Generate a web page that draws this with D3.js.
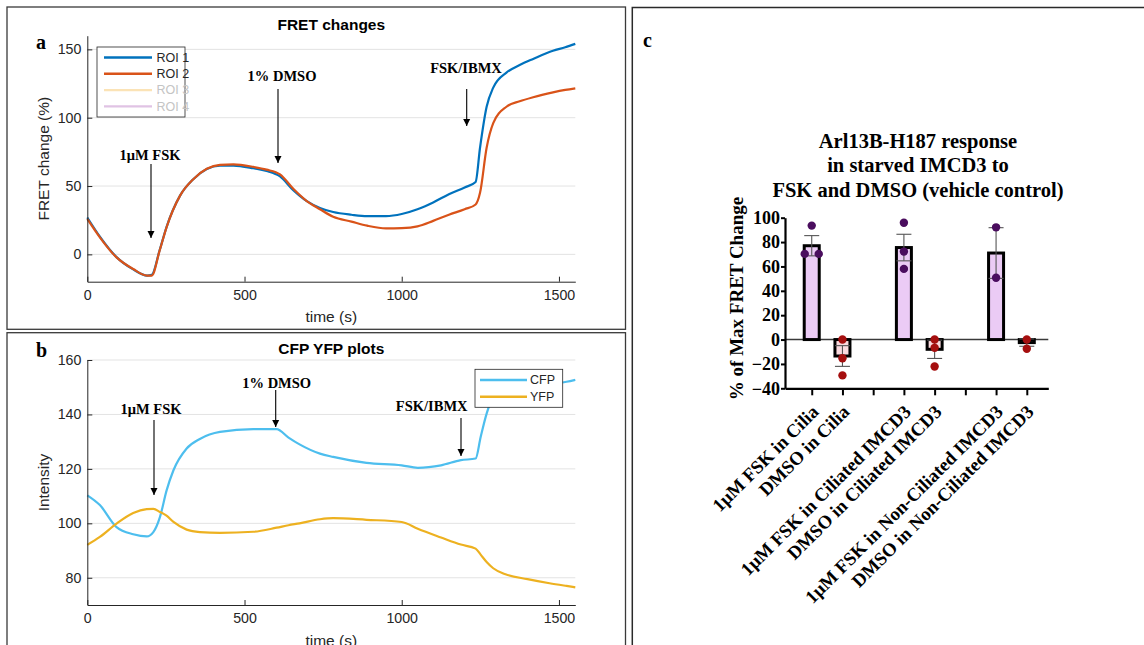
<!DOCTYPE html>
<html><head><meta charset="utf-8">
<script src="https://cdn.jsdelivr.net/npm/d3@7"></script>
<style>body{margin:0;background:#fff} svg{display:block}</style>
</head><body><svg id="c" width="1144" height="645"></svg>
<script>
// ---------- DATA ----------
const timesA = [0,40,93,146,190,205,230,252,295,337,380,422,465,528,570,613,655,698,740,782,840,890,950,1000,1050,1100,1150,1200,1235,1249,1270,1291,1333,1375,1418,1481,1520,1552];
const roi1 = [27,13,-2,-11,-15.5,-15,3,20,43,55,62.5,65,65,63,61,57,47,39,34,31,29,28,28,29.5,33,38,44,49,53,78,108,122,133,138.5,143,149,151.5,154];
const roi2 = [26,12.5,-2.2,-10.7,-15.5,-15.5,2.7,19.8,43,55,62.6,65.5,65.8,64,62,58.5,48,39,33,27.5,24,21,19,19.2,20.5,24.5,29,33,36.5,45,78,96,108,112,115,118.5,120.3,121.5];
const roiLabels = ["ROI 1","ROI 2","ROI 3","ROI 4"];

const timesB = [0,40,93,146,189,210,231,252,274,316,358,422,528,602,640,675,740,782,888,1000,1051,1125,1188,1235,1251,1270,1291,1330,1400,1470,1524,1552];
const cfp = [110.3,106.7,98.6,96,95.2,96.8,102.3,112,119.5,127.5,131,133.6,134.6,134.6,131.5,129,125.6,124.4,122.2,121.3,120.4,121.3,123.2,123.8,131.7,140.3,146.5,149.5,150.5,151.2,152,152.7];
const yfp = [92.1,95,99.9,103.8,105.2,105.3,104.2,102.8,100.5,97.7,96.8,96.5,96.9,98.4,99.3,100,101.5,101.9,101.3,100.5,98,94.8,92.2,90.7,88.5,85.8,83.5,81.3,79.5,78,77,76.5];
const cfpYfpLabels = ["CFP","YFP"];

const timeTicks = [0,500,1000,1500];
const fretTicks = [0,50,100,150];
const intensityTicks = [80,100,120,140,160];

const barCategories = ["1\u03BCM FSK in Cilia","DMSO in Cilia","1\u03BCM FSK in Ciliated IMCD3","DMSO in Ciliated IMCD3","1\u03BCM FSK in Non-Ciliated IMCD3","DMSO in Non-Ciliated IMCD3"];
const barSlots = [0,1,3,4,6,7];
const barMeans = [77,-13.5,75.5,-8,71,-2.5];
const barSem = [8.3,8.5,10.9,7.5,20.8,3];
const barPoints = [[93.5,70.3,70.3],[0,-15.3,-29.4],[95.9,72.2,58],[0,-6.8,-22.1],[92.1,50.7],[0,-7.6]];
const barTicks = [-40,-20,0,20,40,60,80,100];
const barTitle = ["Arl13B-H187 response","in starved IMCD3 to","FSK and DMSO (vehicle control)"];

// ---------- SETUP ----------
const svg = d3.select("#c");
const SANS = "'Liberation Sans', Arial, sans-serif";
const SERIF = "'Liberation Serif', 'Times New Roman', serif";
const AX = "#262626";

svg.append("defs").append("marker")
  .attr("id","arr").attr("viewBox","0 0 10 10").attr("refX",10).attr("refY",5)
  .attr("markerUnits","userSpaceOnUse").attr("markerWidth",7).attr("markerHeight",8)
  .attr("orient","auto")
  .append("path").attr("d","M0,0 L10,5 L0,10 z").attr("fill","#000");

// frames
svg.append("rect").attr("x",7).attr("y",7).attr("width",618.5).attr("height",322.3)
  .attr("fill","none").attr("stroke","#3a3a3a").attr("stroke-width",1.3);
svg.append("rect").attr("x",7).attr("y",332.7).attr("width",618.5).attr("height",340)
  .attr("fill","none").attr("stroke","#3a3a3a").attr("stroke-width",1.3);
svg.append("path").attr("d","M632.3,650 V7.5 H1150")
  .attr("fill","none").attr("stroke","#2a2a2a").attr("stroke-width",1.5);

function panelLetter(t,x,y){
  svg.append("text").attr("x",x).attr("y",y).text(t)
    .attr("font-family",SERIF).attr("font-weight","bold").attr("font-size",20).attr("fill","#000");
}

function matlabPanel(o){
  const g = svg.append("g");
  const x = d3.scaleLinear([0,1552],[87.3,575.3]);
  const y = d3.scaleLinear(o.yDomain,o.yRange);
  // grid
  g.append("g").selectAll("line").data(o.yTicks).join("line")
    .attr("x1",x.range()[0]).attr("x2",x.range()[1])
    .attr("y1",d=>y(d)).attr("y2",d=>y(d)).attr("stroke","#e3e3e3").attr("stroke-width",1);
  // lines
  const line = d3.line().x(d=>x(d[0])).y(d=>y(d[1])).curve(d3.curveMonotoneX);
  o.series.forEach(s=>{
    g.append("path").datum(o.times.map((t,i)=>[t,s.values[i]]))
      .attr("d",line).attr("fill","none").attr("stroke",s.color).attr("stroke-width",2.2)
      .attr("stroke-linejoin","round");
  });
  // axes
  const xa = g.append("g").attr("transform",`translate(0,${o.yRange[0]})`)
    .call(d3.axisBottom(x).tickValues(timeTicks).tickFormat(d3.format("d")).tickSize(-5).tickSizeOuter(0).tickPadding(8));
  const ya = g.append("g").attr("transform",`translate(${x.range()[0]},0)`)
    .call(d3.axisLeft(y).tickValues(o.yTicks).tickFormat(d3.format("d")).tickSize(-5).tickSizeOuter(0).tickPadding(6));
  [xa,ya].forEach(a=>{
    a.selectAll("path,line").attr("stroke",AX);
    a.selectAll("text").attr("font-family",SANS).attr("font-size",14.2).attr("fill",AX);
  });
  // labels
  g.append("text").attr("x",331.3).attr("y",o.titleY).attr("text-anchor","middle")
    .attr("font-family",SANS).attr("font-weight","bold").attr("font-size",15.5).attr("fill","#000").text(o.title);
  g.append("text").attr("x",331.3).attr("y",o.xlabelY).attr("text-anchor","middle")
    .attr("font-family",SANS).attr("font-size",15.5).attr("fill",AX).text("time (s)");
  const cy = (o.yRange[0]+o.yRange[1])/2;
  g.append("text").attr("transform",`translate(48.5,${cy}) rotate(-90)`).attr("text-anchor","middle")
    .attr("font-family",SANS).attr("font-size",15.5).attr("fill",AX).text(o.ylabel);
  // annotations
  o.notes.forEach(n=>{
    g.append("text").attr("x",n.tx).attr("y",n.ty).attr("text-anchor","middle")
      .attr("font-family",SERIF).attr("font-weight","bold").attr("font-size",14.5).attr("fill","#000").text(n.text);
    g.append("line").attr("x1",n.ax).attr("x2",n.ax).attr("y1",n.a0).attr("y2",n.a1)
      .attr("stroke","#000").attr("stroke-width",1.1).attr("marker-end","url(#arr)");
  });
  // legend
  const L = o.legend;
  g.append("rect").attr("x",L.x).attr("y",L.y).attr("width",L.w).attr("height",L.h)
    .attr("fill","#fff").attr("stroke","#262626").attr("stroke-width",0.8);
  L.items.forEach((it,i)=>{
    const yy = L.y0 + i*L.dy;
    g.append("line").attr("x1",L.lx0).attr("x2",L.lx1).attr("y1",yy).attr("y2",yy)
      .attr("stroke",it.color).attr("stroke-width",2.4);
    g.append("text").attr("x",L.tx).attr("y",yy).attr("dy","0.35em")
      .attr("font-family",SANS).attr("font-size",12.5).attr("fill",it.textColor).text(it.label);
  });
}

// ---------- PANEL a ----------
matlabPanel({
  yDomain:[-20,160], yRange:[281.7,35.7], yTicks:fretTicks,
  title:"FRET changes", titleY:29.5, xlabelY:322, ylabel:"FRET change (%)",
  times:timesA,
  series:[{values:roi1,color:"#0072BD"},{values:roi2,color:"#D95319"}],
  notes:[
    {text:"1\u03BCM FSK",tx:150,ty:160,ax:151,a0:164,a1:238},
    {text:"1% DMSO",tx:282,ty:81,ax:278,a0:89,a1:163},
    {text:"FSK/IBMX",tx:466,ty:73,ax:466.7,a0:89,a1:126}
  ],
  legend:{x:97,y:47,w:88,h:70,y0:57.5,dy:16.3,lx0:104,lx1:152,tx:156.5,
    items:[
      {label:roiLabels[0],color:"#0072BD",textColor:"#262626"},
      {label:roiLabels[1],color:"#D95319",textColor:"#262626"},
      {label:roiLabels[2],color:"#fbe3b6",textColor:"#c4c4c4"},
      {label:roiLabels[3],color:"#e0c3e4",textColor:"#c4c4c4"}
    ]}
});
panelLetter("a",36,48.5);

// ---------- PANEL b ----------
matlabPanel({
  yDomain:[70,160], yRange:[605,360], yTicks:intensityTicks,
  title:"CFP YFP plots", titleY:353.8, xlabelY:645.5, ylabel:"Intensity",
  times:timesB,
  series:[{values:cfp,color:"#4DBEEE"},{values:yfp,color:"#EDB120"}],
  notes:[
    {text:"1\u03BCM FSK",tx:151,ty:413.5,ax:154,a0:420,a1:495},
    {text:"1% DMSO",tx:276.7,ty:387.5,ax:275.7,a0:390,a1:427},
    {text:"FSK/IBMX",tx:431.7,ty:411,ax:461,a0:418,a1:456}
  ],
  legend:{x:475,y:369.3,w:87.7,h:38,y0:380,dy:16.7,lx0:480,lx1:527,tx:530,
    items:[
      {label:cfpYfpLabels[0],color:"#4DBEEE",textColor:"#262626"},
      {label:cfpYfpLabels[1],color:"#EDB120",textColor:"#262626"}
    ]}
});
panelLetter("b",36,357);

// ---------- PANEL c ----------
panelLetter("c",643,46.5);
const gc = svg.append("g");
const xC = d3.scaleLinear([-0.87,7.7],[785,1048.3]);
const yC = d3.scaleLinear([-40,100],[388.3,217.7]);
const bw = 18;

barTitle.forEach((t,i)=>{
  gc.append("text").attr("x",918).attr("y",147.5+i*24.6).attr("text-anchor","middle")
    .attr("font-family",SERIF).attr("font-weight","bold").attr("font-size",20.5).attr("fill","#000").text(t);
});

// zero line
gc.append("line").attr("x1",xC.range()[0]).attr("x2",xC.range()[1]).attr("y1",yC(0)).attr("y2",yC(0))
  .attr("stroke","#3a3a3a").attr("stroke-width",1.6);

// bars
gc.selectAll("rect.bar").data(barMeans).join("rect").attr("class","bar")
  .attr("x",(d,i)=>xC(barSlots[i])-bw/2+1.5).attr("width",bw-3)
  .attr("y",d=>Math.min(yC(d),yC(0))).attr("height",d=>Math.abs(yC(d)-yC(0)))
  .attr("fill",(d,i)=>i%2===0?"#ebcbf5":"#fadadf").attr("stroke","#000").attr("stroke-width",3);

// error bars
barMeans.forEach((m,i)=>{
  const cx = xC(barSlots[i]), s = barSem[i];
  const eg = gc.append("g").attr("stroke","#555").attr("stroke-width",1.1);
  eg.append("line").attr("x1",cx).attr("x2",cx).attr("y1",yC(m-s)).attr("y2",yC(m+s));
  [m-s,m+s].forEach(v=>eg.append("line").attr("x1",cx-7.5).attr("x2",cx+7.5).attr("y1",yC(v)).attr("y2",yC(v)));
});

// points
barPoints.forEach((pts,i)=>{
  const cx = xC(barSlots[i]);
  const n = pts.length;
  pts.forEach((v,j)=>{
    let off = 0;
    if(i===0 && n===3){ off = j===0?0:(j===1?-7:7); }
    gc.append("circle").attr("cx",cx+off).attr("cy",yC(v)).attr("r",4.2)
      .attr("fill",i%2===0?"#4a0d5e":"#a50f0f");
  });
});

// axes
const yAxC = gc.append("g").attr("transform","translate(785,0)")
  .call(d3.axisLeft(yC).tickValues(barTicks).tickSize(4).tickSizeOuter(0).tickPadding(1));
yAxC.select(".domain").attr("stroke","#000").attr("stroke-width",2.2);
yAxC.selectAll("line").attr("stroke","#000").attr("stroke-width",2);
yAxC.selectAll("text").attr("font-family",SERIF).attr("font-weight","bold").attr("font-size",18).attr("fill","#000");

const slotLabel = {};
barSlots.forEach((s,i)=>slotLabel[s]=barCategories[i]);
const xAxC = gc.append("g").attr("transform",`translate(0,${yC(-40)})`)
  .call(d3.axisBottom(xC).tickValues(d3.range(8)).tickSize(7).tickSizeOuter(0).tickFormat(d=>slotLabel[d]||""));
xAxC.select(".domain").attr("stroke","#000").attr("stroke-width",2.2);
xAxC.selectAll("line").attr("stroke","#000").attr("stroke-width",2);
xAxC.selectAll("text").attr("font-family",SERIF).attr("font-weight","bold").attr("font-size",18.6).attr("fill","#000")
  .attr("text-anchor","end").attr("x",0).attr("y",0).attr("dy","0.35em")
  .attr("transform","translate(3,20) rotate(-45)");

gc.append("text").attr("transform","translate(743,298.5) rotate(-90)").attr("text-anchor","middle")
  .attr("font-family",SERIF).attr("font-weight","bold").attr("font-size",19).attr("fill","#000")
  .text("% of Max FRET Change");
</script></body></html>
